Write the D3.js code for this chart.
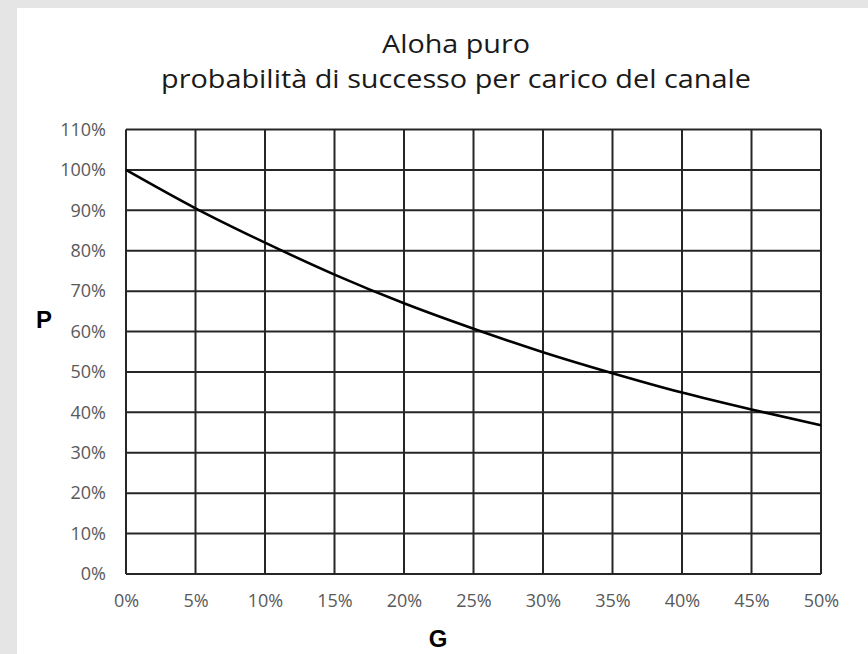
<!DOCTYPE html>
<html><head><meta charset="utf-8">
<script src="https://cdn.jsdelivr.net/npm/d3@7"></script>
<style>
html,body{margin:0;padding:0;background:#e5e5e5;}
svg{display:block;}
</style></head>
<body>
<svg id="chart" width="868" height="654"></svg>
<script>
const titleLines = ["Aloha puro", "probabilità di successo per carico del canale"];
const xLabel = "G";
const yLabel = "P";
const gValues = [0, 0.05, 0.10, 0.15, 0.20, 0.25, 0.30, 0.35, 0.40, 0.45, 0.50];
const pValues = [1.00, 0.905, 0.82, 0.741, 0.67, 0.607, 0.549, 0.497, 0.449, 0.407, 0.368];
const xTicks = [0, 0.05, 0.10, 0.15, 0.20, 0.25, 0.30, 0.35, 0.40, 0.45, 0.50];
const yTicks = [0, 0.1, 0.2, 0.3, 0.4, 0.5, 0.6, 0.7, 0.8, 0.9, 1.0, 1.1];

(function () {
const svg = d3.select("#chart");
svg.append("rect").attr("x", 17).attr("y", 8).attr("width", 851).attr("height", 646).attr("fill", "#ffffff");

const pl = 126, pr = 821, pt = 129.5, pb = 574;
const x = d3.scaleLinear().domain([0, 0.5]).range([pl, pr]);
const y = d3.scaleLinear().domain([0, 1.1]).range([pb, pt]);
const fmt = d3.format(".0%");
const font = "'Open Sans', Lato, sans-serif";
const gridColor = "#262626";

const g = svg.append("g");
g.selectAll("line.h").data(yTicks).join("line").attr("class", "h")
  .attr("x1", pl).attr("x2", pr)
  .attr("y1", d => y(d)).attr("y2", d => y(d))
  .attr("stroke", gridColor).attr("stroke-width", 2);
g.selectAll("line.v").data(xTicks).join("line").attr("class", "v")
  .attr("y1", pt).attr("y2", pb)
  .attr("x1", d => x(d)).attr("x2", d => x(d))
  .attr("stroke", gridColor).attr("stroke-width", 2);

const yAxis = svg.append("g").attr("transform", `translate(${pl},0)`);
yAxis.call(d3.axisLeft(y).tickValues(yTicks).tickFormat(fmt).tickSize(0).tickPadding(20));
const xAxis = svg.append("g").attr("transform", `translate(0,${pb})`);
xAxis.call(d3.axisBottom(x).tickValues(xTicks).tickFormat(fmt).tickSize(0).tickPadding(20));
[yAxis, xAxis].forEach(a => {
  a.attr("font-size", 18).attr("font-family", font);
  a.select(".domain").remove();
  a.selectAll("text").attr("fill", "#595959").attr("font-size", 18).attr("font-family", font);
});

const line = d3.line().x((d, i) => x(gValues[i])).y(d => y(d)).curve(d3.curveMonotoneX);
svg.append("path").datum(pValues).attr("d", line)
  .attr("fill", "none").attr("stroke", "#000").attr("stroke-width", 2.6);

const cx = 456;
const widths = [148, 590];
svg.selectAll("text.title").data(titleLines).join("text")
  .attr("class", "title")
  .attr("x", cx).attr("y", (d, i) => 53 + i * 35)
  .attr("text-anchor", "middle")
  .attr("fill", "#1a1a1a")
  .attr("font-family", font).attr("font-size", 25)
  .attr("textLength", (d, i) => widths[i])
  .attr("lengthAdjust", "spacingAndGlyphs")
  .text(d => d);

svg.append("text").attr("x", 44).attr("y", 328).attr("text-anchor", "middle")
  .attr("font-family", "'Liberation Sans', Arial, sans-serif").attr("font-weight", "bold").attr("font-size", 24)
  .attr("fill", "#000").text(yLabel);
svg.append("text").attr("x", 438).attr("y", 647).attr("text-anchor", "middle")
  .attr("font-family", "'Liberation Sans', Arial, sans-serif").attr("font-weight", "bold").attr("font-size", 24)
  .attr("fill", "#000").text(xLabel);
})();
</script>
</body></html>
